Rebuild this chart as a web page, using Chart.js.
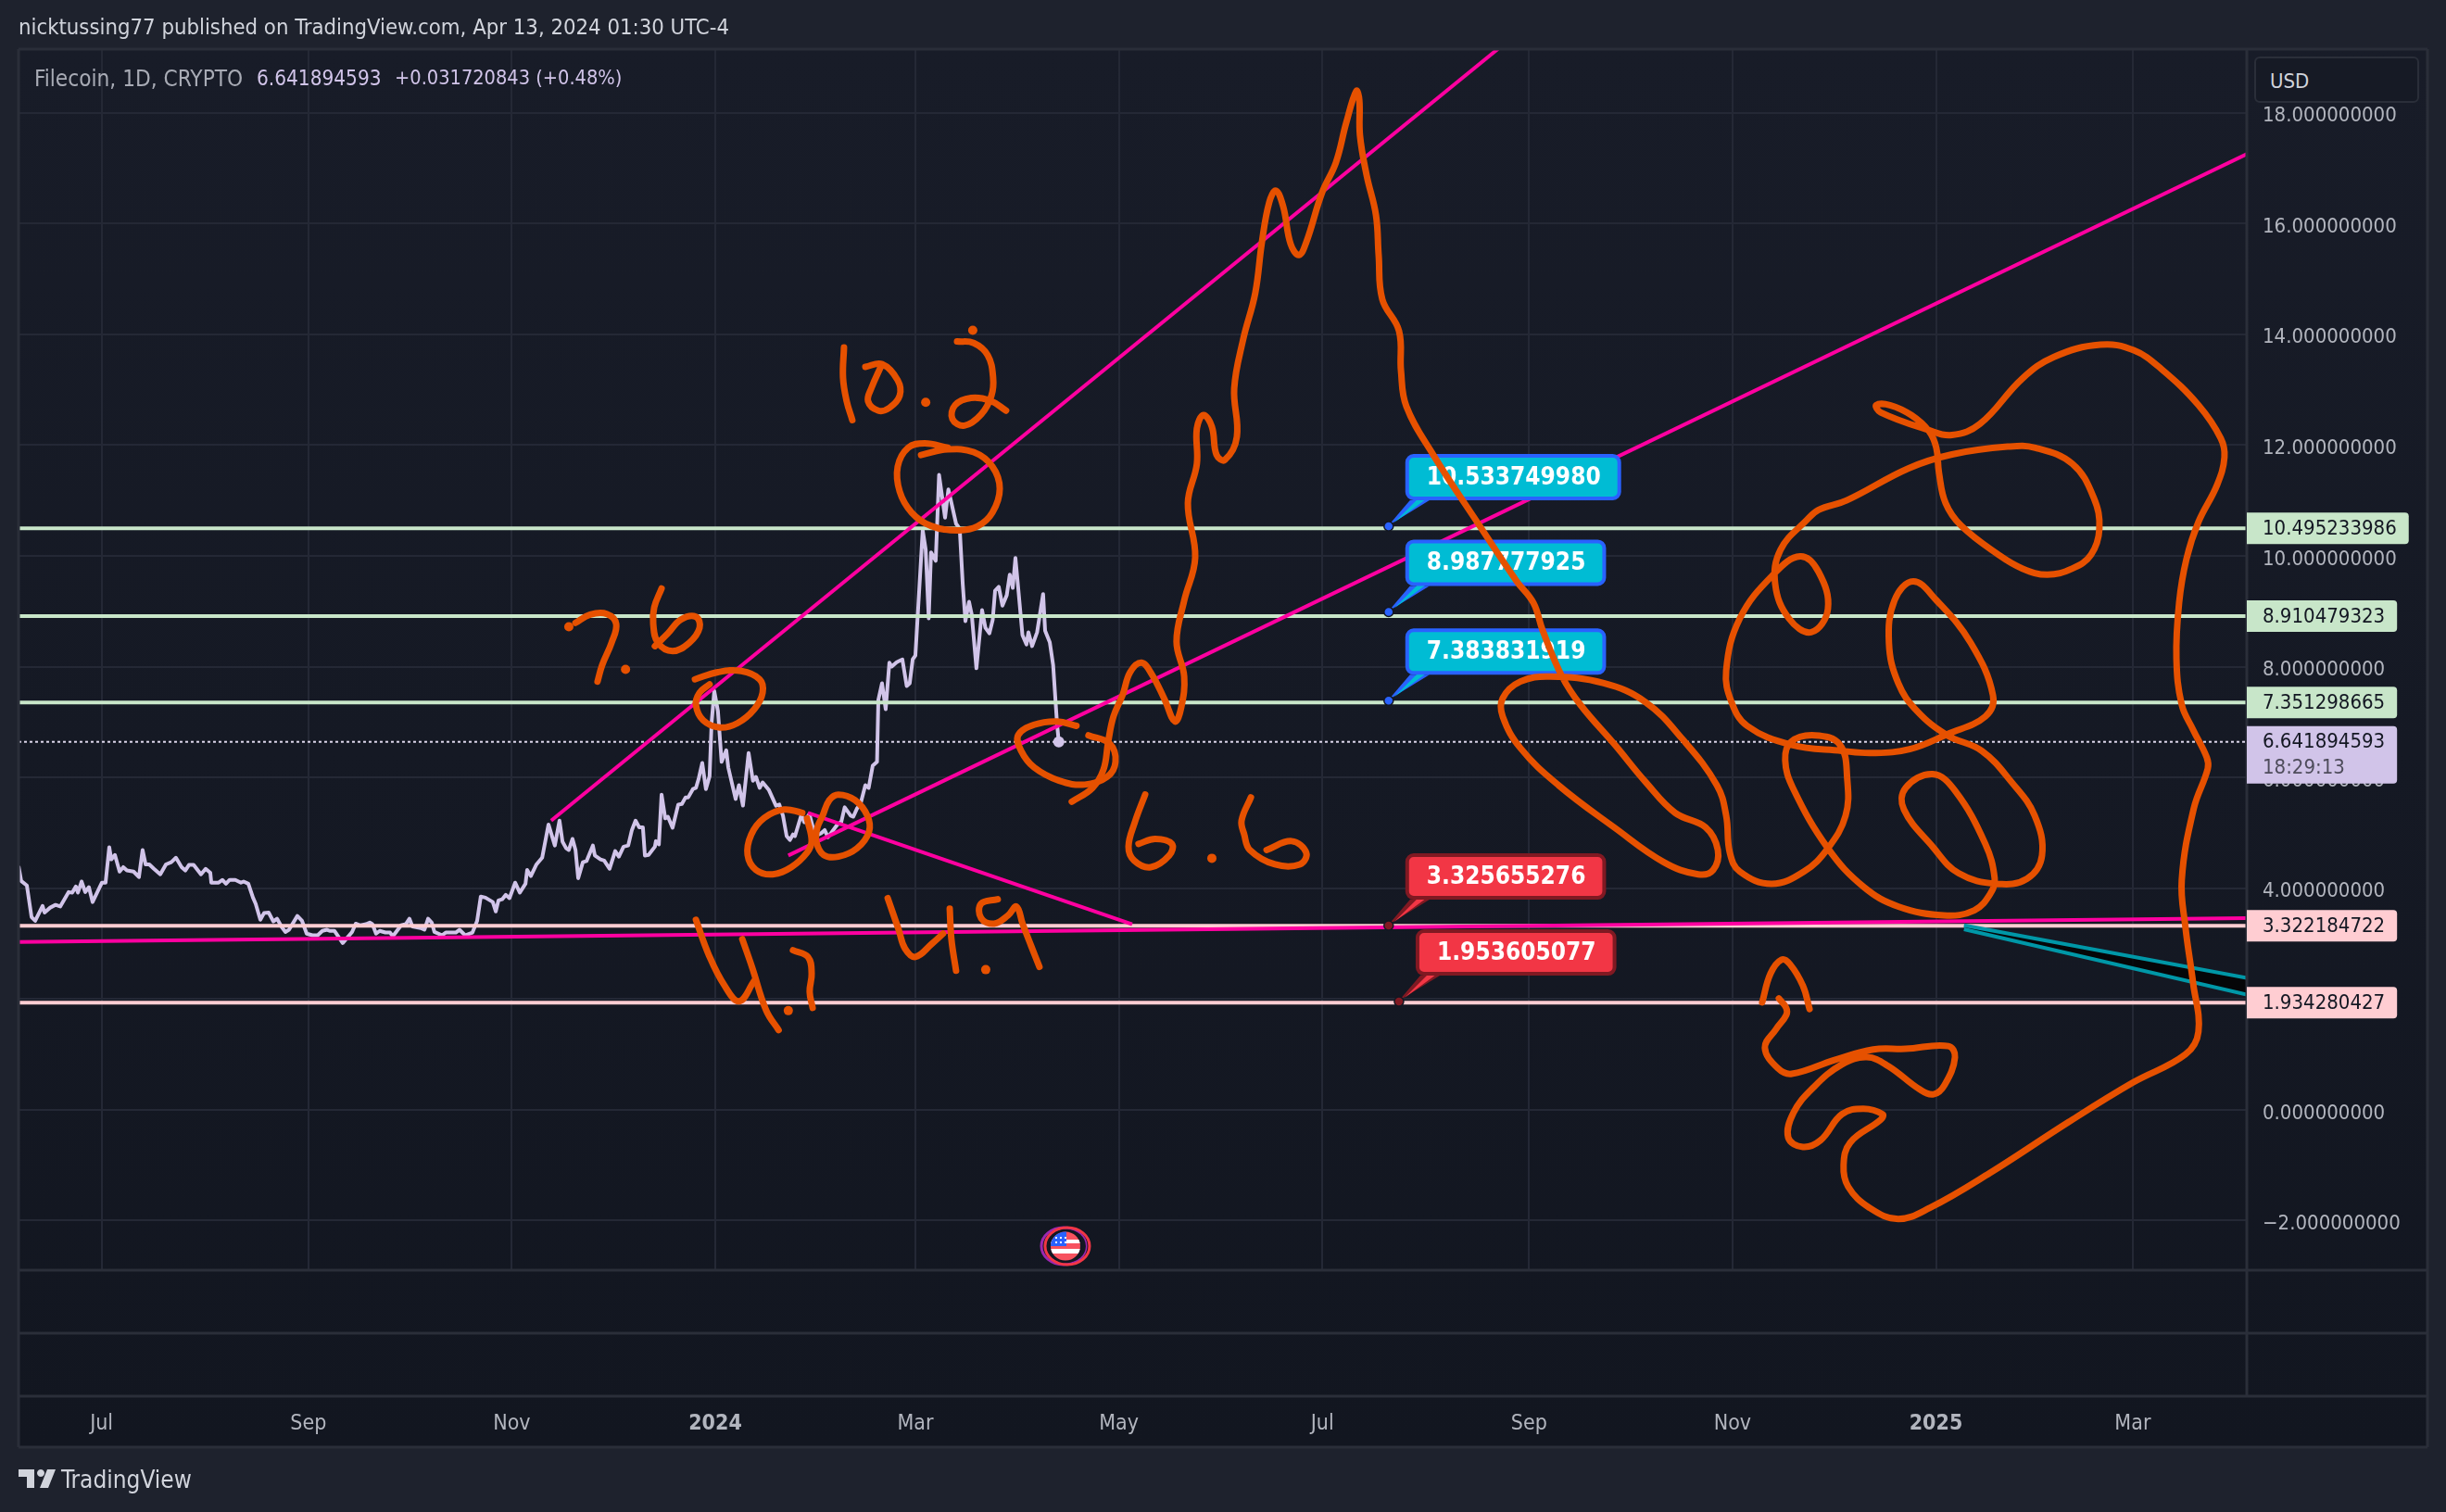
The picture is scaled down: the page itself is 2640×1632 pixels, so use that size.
<!DOCTYPE html>
<html lang="en">
<head>
    <meta charset="utf-8">
    <script src="https://cdn.jsdelivr.net/npm/chart.js"></script>
    <style>
        body { margin: 0; background: #1e222d; width: 2640px; height: 1632px; overflow: hidden; position: relative; }
        canvas { position: absolute; left: 0; top: 0; }
        .txt { position: absolute; white-space: pre; font-family: "DejaVu Sans Condensed", "DejaVu Sans", sans-serif; line-height: 1; }
        #header { left: 20px; top: 18px; font-size: 23.7px; color: #d1d4dc; }
        #legendName { left: 37px; top: 73px; font-size: 24.2px; color: #a8abb5; }
        #legendPrice { left: 277px; top: 73px; font-size: 22.4px; color: #d1c4e9; }
        #legendDelta { left: 426px; top: 73px; font-size: 21.6px; color: #d1c4e9; }
        #usd { left: 2433px; top: 61px; width: 178px; height: 50px; box-sizing: border-box; padding: 14px 0 0 15px; font-size: 22px; color: #d1d4dc; background: #161a25; border: 2px solid #2a2e39; border-radius: 6px; }
        #brand { left: 66px; top: 1584px; font-size: 26px; color: #d1d4dc; }
        #logo { position: absolute; left: 20px; top: 1586px; }
    </style>
</head>
<body>
    <canvas id="chart" width="2640" height="1632"></canvas>
    <div class="txt" id="header">nicktussing77 published on TradingView.com, Apr 13, 2024 01:30 UTC-4</div>
    <div class="txt" id="legendName">Filecoin, 1D, CRYPTO</div>
    <div class="txt" id="legendPrice">6.641894593</div>
    <div class="txt" id="legendDelta">+0.031720843 (+0.48%)</div>
    <div class="txt" id="usd">USD</div>
    <svg id="logo" width="40" height="20" viewBox="0 0 40 20"><path fill="#d1d4dc" d="M0 0h17v20h-8V8H0zM24 0a4 4 0 1 1-.01 0zM31 0h9l-8 20h-9z"/></svg>
    <div class="txt" id="brand">TradingView</div>
    <script>
        // x is days since 2024-01-01, y is the price
        const xMin = -208.9, xMax = 459.2, yMin = -2.895, yMax = 19.146;
        const xTickDays = [-184, -122, -61, 0, 60, 121, 182, 244, 305, 366, 425];
        const xTickLabels = ['Jul', 'Sep', 'Nov', '2024', 'Mar', 'May', 'Jul', 'Sep', 'Nov', '2025', 'Mar'];
        const boldTickDays = [0, 366];
        const yTickValues = [-2, 0, 2, 4, 6, 8, 10, 12, 14, 16, 18];

        const priceDays = [
            -208.9,-208.1,-206.4,-205,-203.9,-201.7,-201.1,-199.4,-197.8,-196.4,-193.9,-192.8,-191.7,-191.1,-190,-188.9,-187.8,-186.7,-183.9,-182.8,
            -181.7,-181.1,-180,-178.6,-177.5,-176.4,-174.4,-172.8,-171.7,-170.8,-169.7,-168.3,-166.4,-164.7,-163.1,-161.7,-160,-158.9,-157.8,-156.4,
            -154.2,-152.8,-151.4,-151.1,-148.9,-147.8,-146.7,-145.6,-143.9,-142.2,-141.4,-140,-138.6,-137.8,-136.4,-135.3,-133.9,-132.5,-131.4,-130,
            -128.9,-127.8,-125.3,-123.9,-122.5,-120.8,-119.2,-117.8,-116.4,-115.6,-114.2,-111.7,-108.9,-107.8,-106.4,-104.7,-103.6,-102.8,-101.7,-100.6,
            -98.9,-97.5,-96.7,-94.2,-92.8,-91.7,-90.8,-88.3,-87.2,-86.1,-85,-84.2,-81.9,-80.8,-77.8,-76.7,-75,-72.8,-71.4,-70.3,
            -68.9,-66.7,-65.8,-65,-63.9,-62.8,-61.7,-60,-58.6,-56.9,-56.4,-55.3,-53.6,-51.9,-50,-48.1,-46.7,-45.8,-44.7,-43.9,
            -42.8,-41.9,-41.1,-39.7,-38.6,-36.7,-36.1,-34.4,-33.3,-31.7,-30,-28.9,-27.5,-26.1,-25,-23.9,-22.8,-21.7,-21.1,-20,
            -18.1,-17.8,-16.9,-16.1,-15,-14.2,-12.8,-11.1,-10,-8.9,-8.1,-6.7,-5.8,-5,-3.9,-2.8,-1.7,-1.1,-0.3,0.8,
            1.9,3.3,3.9,6.1,7.1,8.3,10,11.3,12.2,13.3,14.2,16.1,18.2,19.2,20.3,21.4,22.4,23.3,23.9,25.8,
            26.7,28.2,30,31.7,32.8,33.8,36.5,37.8,38.8,40.6,41.4,42.5,43.5,45,46,47.2,48.5,48.9,50,51.1,
            52.2,52.9,54.4,56.1,57.4,58.3,59.2,60,62.2,63.1,64,64.7,66.1,67.1,68.9,69.9,72.2,73.3,74.2,75,
            76.1,76.9,78.3,80,81,82.2,83.2,83.9,85,86.1,87.4,88.3,89.2,90,90.8,92.1,93.3,93.9,95,96.5,
            98.3,98.9,100.3,101.3,102.5,103
        ];
        const priceValues = [
            4.40,4.13,4.05,3.48,3.41,3.68,3.56,3.65,3.70,3.67,3.93,3.92,4.03,3.92,4.12,3.93,4.02,3.75,4.10,4.10,
            4.74,4.52,4.60,4.30,4.38,4.32,4.30,4.20,4.69,4.43,4.43,4.35,4.25,4.43,4.47,4.55,4.38,4.32,4.42,4.42,
            4.25,4.35,4.28,4.10,4.10,4.15,4.08,4.15,4.15,4.10,4.12,4.08,3.83,3.72,3.43,3.55,3.56,3.40,3.45,3.30,
            3.21,3.25,3.50,3.41,3.18,3.15,3.15,3.23,3.25,3.23,3.23,3.01,3.21,3.36,3.33,3.35,3.38,3.35,3.18,3.23,
            3.20,3.20,3.13,3.33,3.35,3.45,3.31,3.28,3.25,3.45,3.38,3.21,3.15,3.20,3.20,3.25,3.15,3.20,3.41,3.85,
            3.83,3.75,3.58,3.78,3.80,3.88,3.82,4.10,3.92,4.08,4.33,4.22,4.43,4.55,5.15,4.77,5.22,4.84,4.72,4.69,
            4.89,4.69,4.18,4.47,4.49,4.77,4.59,4.52,4.50,4.35,4.67,4.57,4.75,4.77,5.05,5.22,5.10,5.10,4.59,4.60,
            4.75,4.85,4.79,5.69,5.26,5.29,5.09,5.51,5.52,5.64,5.64,5.79,5.81,5.97,6.26,5.79,6.02,6.98,7.56,7.20,
            6.28,6.49,6.18,5.61,5.86,5.49,6.44,5.94,6.01,5.81,5.91,5.77,5.49,5.51,5.31,4.94,4.87,4.97,4.94,5.32,
            5.19,5.34,4.94,4.99,5.05,4.92,5.14,5.20,5.46,5.31,5.29,5.44,5.51,5.86,5.81,6.21,6.28,7.40,7.70,7.23,
            8.07,8.00,8.08,8.13,7.65,7.70,8.13,8.20,10.46,10.11,8.87,10.06,9.91,11.46,10.69,11.20,10.58,10.49,9.49,8.82,
            9.17,8.94,7.97,9.02,8.70,8.60,8.85,9.37,9.44,9.10,9.29,9.66,9.42,9.96,9.44,8.57,8.40,8.62,8.37,8.62,
            9.31,8.65,8.44,8.03,6.95,6.64
        ];
        const lastPrice = 6.641894593;
        const countdown = '18:29:13';

        const greenLevels = [10.495233986, 8.910479323, 7.351298665];
        const redLevels = [3.322184722, 1.934280427];

        // trend lines, [day, price]
        const trendUpper = [[-49.2, 5.22], [234.7, 19.15]];
        const trendLower = [[21.9, 4.59], [459.2, 17.25]];
        const trendDown = [[27.8, 5.36], [125, 3.35]];
        const trendFlat = [[-208.9, 3.03], [459.2, 3.46]];
        const tealUpper = [[374.4, 3.33], [459.2, 2.38]];
        const tealLower = [[374.4, 3.26], [459.2, 2.08]];

        // callouts: day, price, text
        const blueNotes = [[201.9, 10.533749980, '10.533749980'], [201.9, 8.987777925, '8.987777925'], [201.9, 7.383831919, '7.383831919']];
        const redNotes = [[201.9, 3.325655276, '3.325655276'], [205, 1.953605077, '1.953605077']];
        const flagDay = 105, flagValue = -2.46;

        // orange hand drawing, [day, price]
        const inkTenOne = [[38.6,13.76],[38.3,13.22],[39.4,12.79],[41.1,12.45]];
        const inkTenZero = [[45,13.41],[50,13.46],[54.7,13.17],[55.3,12.89],[52.2,12.67],[48.9,12.62],[45.8,12.79],[46.9,13.04],[49.7,13.42]];
        const inkTenTwo = [[72.5,13.87],[77.5,13.84],[81.7,13.62],[83.3,13.22],[82.8,12.89],[79.7,12.55],[74.7,12.35],[71.1,12.47],[71.9,12.72],[76.7,12.85],[82.5,12.80],[87.2,12.62]];
        const inkTenCircle = [[61.7,11.82],[69.7,11.92],[77.5,11.87],[83.1,11.61],[85.3,11.21],[83.1,10.78],[78.6,10.53],[72.8,10.46],[64.7,10.54],[58.9,10.78],[55.3,11.16],[54.7,11.61],[57.8,11.95],[62.8,12.03],[69.7,11.95]];
        const inkSevenTop = [[-41.9,8.79],[-37.5,8.94],[-32.5,8.95],[-29.7,8.77],[-31.1,8.43],[-33.9,8.03],[-35.3,7.73]];
        const inkSixTop = [[-16.1,9.41],[-18.3,9.07],[-18.6,8.77],[-17.2,8.43],[-12.8,8.28],[-7.8,8.43],[-4.7,8.70],[-5.8,8.90],[-10.3,8.85],[-14.2,8.60],[-18.1,8.37]];
        const inkPeakCircle = [[-6.1,7.77],[0.8,7.90],[7.8,7.92],[13.3,7.77],[14.2,7.53],[11.7,7.23],[6.7,6.98],[1.4,6.90],[-3.6,7.03],[-5.8,7.31],[-4.7,7.53],[-1.7,7.68]];
        const inkLowCircleA = [[26.1,5.36],[20.6,5.42],[14.7,5.27],[10.8,4.97],[9.7,4.60],[12.2,4.33],[17.2,4.25],[22.8,4.38],[27.5,4.64],[28.9,4.85],[27.5,5.26]];
        const inkLowCircleB = [[32.2,5.31],[34.2,5.59],[36.9,5.69],[41.9,5.59],[45.6,5.31],[46.1,5.02],[42.5,4.72],[36.9,4.57],[32.5,4.60],[30.3,4.84],[30.6,5.09],[32.2,5.31]];
        const inkNowCircle = [[108.3,6.93],[102.5,7.01],[95.6,6.95],[90.8,6.76],[91.7,6.48],[95.6,6.18],[103.1,5.94],[110.8,5.87],[117.5,6.01],[120,6.28],[118.3,6.61],[111.9,6.76]];
        const inkSixA = [[128.9,5.69],[125.8,5.19],[123.9,4.75],[125.6,4.50],[130.6,4.38],[136.1,4.59],[136.9,4.80],[131.9,4.89],[126.9,4.80]];
        const inkSixB = [[160.6,5.64],[157.8,5.22],[158.6,4.97],[160.3,4.69],[167.8,4.43],[175.3,4.43],[177.2,4.64],[172.8,4.85],[165.3,4.69]];
        const inkFourA = [[-5.8,3.43],[-1.9,2.79],[2.8,2.24],[7.2,1.96],[11.7,2.33]];
        const inkFourAStem = [[8.1,3.08],[11,2.58],[15.3,1.79],[19,1.44]];
        const inkSevenLow = [[23.3,2.88],[27.8,2.76],[28.9,2.46],[28.3,2.13],[29.2,1.84]];
        const inkFourB = [[51.7,3.82],[55,3.25],[56.9,2.91],[60,2.76],[65,3.00],[68.3,3.18]];
        const inkFourBStem = [[70.3,3.63],[70.8,3.08],[72.2,2.51]];
        const inkNine = [[84.7,3.80],[79.7,3.72],[79.7,3.46],[83.6,3.36],[87.8,3.51],[90.3,3.67],[92.2,3.35],[94.7,2.96],[97.2,2.58]];
        const inkSmallPeak = [[313.9,1.94],[316.4,2.46],[319.7,2.71],[322.2,2.63],[326.1,2.24],[328.1,1.82]];
        const inkDots = [[63.1,12.77],[77.2,14.07],[-43.9,8.72],[-26.9,7.95],[148.9,4.54],[21.9,1.79],[81.1,2.53]];

        const inkWaveUp = [[106.9,5.56],[113.1,5.81],[116.4,6.14],[117.8,6.64],[119.4,7.10],[122.2,7.50],[124.4,7.90],[127.8,8.07],[130.8,7.87],[134.7,7.41],[137.8,7.01],[139.7,7.26],[140.6,7.82],[138.3,8.45],[140.6,9.19],[143.9,9.97],[141.7,10.95],[144.4,11.66],[144.4,12.30],[146.4,12.54],[148.9,12.33],[150.3,11.82],[152.8,11.73],[156.4,12.15],[155.6,13.02],[158.3,13.91],[161.9,14.74],[163.9,15.66],[166.1,16.38],[168.1,16.59],[170.3,16.30],[172.5,15.63],[175,15.43],[177.2,15.66],[181.9,16.55],[186.1,17.10],[189.2,17.82],[192.2,18.39],[193.1,18.23]];
        const inkWaveDown = [[193.3,17.59],[195.3,16.87],[198.1,16.15],[198.9,15.43],[200,14.63],[205,14.06],[205.6,13.34],[207.2,12.70],[215.3,11.82],[229.2,10.54],[240.3,9.54],[245.3,9.15],[248.1,8.65],[253.9,7.82],[259.4,7.31],[269.7,6.59],[278.9,5.92],[287.8,5.36],[296.9,5.10],[300.6,4.69],[299.2,4.33],[294.7,4.25],[284.4,4.47],[269.7,5.09],[252.8,5.86],[241.4,6.53],[236.1,7.10],[236.1,7.43],[241.4,7.73],[250.3,7.82],[266.4,7.70],[278.9,7.36],[290,6.69],[300.3,5.86],[303.1,5.31],[304.2,4.64],[307.2,4.30]];
        const inkLoopsLow = [[316.7,4.08],[326.4,4.30],[333.6,4.72],[338.9,5.31],[339.4,5.97],[337.2,6.59],[329.7,6.76],[322.5,6.64],[320.8,6.31],[323.1,5.81],[333.6,4.72],[344.4,4.02],[354.7,3.67],[368.3,3.51],[377.5,3.60],[382.5,3.92],[383.6,4.18],[380.8,4.80],[371.7,5.76],[365,6.06],[356.9,5.81],[356.4,5.42],[365,4.75],[372.8,4.27],[384.2,4.08],[393.3,4.17],[397.8,4.59],[395.6,5.31],[388.6,5.92],[379.7,6.48],[369.4,6.76]];
        const inkLoopsHigh = [[360.3,7.20],[354.7,7.70],[351.9,8.43],[353.6,9.20],[359.2,9.54],[366.1,9.20],[376.4,8.43],[383.1,7.48],[380.8,7.10],[369.4,6.78],[358.1,6.51],[346.7,6.44],[337.8,6.48],[322.5,6.59],[309.4,6.93],[304.7,7.36],[303.1,7.93],[307.2,8.87],[317.2,9.66],[325.3,9.99],[330.8,9.71],[333.6,9.04],[328.6,8.62],[321.9,8.87],[317.8,9.49],[319.4,10.11],[327.5,10.66],[330.8,10.83],[339.2,11.00],[357.8,11.58],[370.8,11.83],[387.5,11.97],[395.8,11.95],[406.9,11.66],[413.3,11.05],[415,10.49],[412.5,10.02],[406.9,9.77],[399.4,9.66],[391.9,9.77],[384.7,10.02],[373.6,10.54],[368.9,10.95],[366.9,11.50],[366.1,11.95],[363.9,12.25],[358.6,12.54],[352.2,12.72],[348.1,12.72],[349.4,12.59],[363.3,12.28],[370.8,12.18],[379.2,12.38]];
        const inkOuterRing = [[391.9,13.20],[401.4,13.59],[415.3,13.81],[425.3,13.71],[433.6,13.37],[444.7,12.72],[451.4,12.12],[452.5,11.78],[450.3,11.28],[444.7,10.61],[441.1,9.94],[438.9,9.15],[438.1,8.15],[439.7,7.31],[443.1,6.86],[447.2,6.36],[447.5,6.16],[443.3,5.44],[439.7,4.15],[440.8,3.30],[443.1,2.29],[444.7,1.41],[440.8,1.00],[425,0.49],[405.8,-0.22],[382.2,-1.14],[364.2,-1.77],[354.7,-1.97],[346.1,-1.77],[339.7,-1.39],[338.3,-1.00],[340.3,-0.59],[349.4,-0.18],[350,-0.08]];
        const inkTail = [[344.2,0.02],[337.8,-0.08],[331.4,-0.55],[326.1,-0.67],[321.7,-0.50],[323.3,-0.05],[329.2,0.40],[337.8,0.82],[345.3,0.95],[351.7,0.79],[361.1,0.37],[365.3,0.28],[368.6,0.45],[371.7,0.95],[369.7,1.15],[356.9,1.10],[347.2,1.09],[335.6,0.90],[322.8,0.65],[318.6,0.75],[314.7,1.12],[318.1,1.46],[321.1,1.71],[321.1,1.84],[318.9,2.01]];
        const inkMain = [...inkWaveUp, ...inkWaveDown, ...inkLoopsLow, ...inkLoopsHigh, ...inkOuterRing, ...inkTail];

        const inkStrokes = [inkMain, inkTenOne, inkTenZero, inkTenTwo, inkTenCircle, inkSevenTop, inkSixTop, inkPeakCircle, inkLowCircleA, inkLowCircleB,
            inkNowCircle, inkSixA, inkSixB, inkFourA, inkFourAStem, inkSevenLow, inkFourB, inkFourBStem, inkNine, inkSmallPeak];

        const labelFont = '"DejaVu Sans Condensed", "DejaVu Sans", sans-serif';

        function strokeSet(points) {
            return { data: points, showLine: true, tension: 0.4, borderColor: '#e65100', borderWidth: 7, borderCapStyle: 'round', borderJoinStyle: 'round', pointRadius: 0 };
        }
        function straightSet(points, color, width) {
            return { data: points, showLine: true, tension: 0, borderColor: color, borderWidth: width, pointRadius: 0 };
        }
        function levelSet(value, color) {
            return straightSet([[xMin, value], [xMax, value]], color, 4);
        }

        const inkSets = inkStrokes.map(strokeSet);
        inkSets.push({ data: inkDots, showLine: false, pointRadius: 5, pointBackgroundColor: '#e65100', pointBorderWidth: 0 });

        // datasets are painted from the last one to the first one
        const datasets = [
            ...inkSets,
            straightSet(trendUpper, '#ff00a0', 4),
            straightSet(trendLower, '#ff00a0', 4),
            straightSet(trendDown, '#ff00a0', 4),
            straightSet(trendFlat, '#ff00a0', 4),
            straightSet(tealUpper, '#0097a7', 4),
            { ...straightSet(tealLower, '#0097a7', 4), fill: { target: '-1', above: 'rgba(0,0,0,0.75)', below: 'rgba(0,0,0,0.75)' } },
            ...greenLevels.map(v => levelSet(v, '#c8e6c9')),
            ...redLevels.map(v => levelSet(v, '#ffcdd2')),
            {
                data: priceDays.map((d, i) => [d, priceValues[i]]),
                showLine: true, tension: 0, borderColor: '#d1c4e9', borderWidth: 4, borderJoinStyle: 'round',
                pointRadius: ctx => ctx.dataIndex === priceDays.length - 1 ? 6 : 0, pointBackgroundColor: '#d1c4e9', pointBorderWidth: 0
            },
            { ...straightSet([[xMin, lastPrice], [xMax, lastPrice]], '#dcd6ea', 2), borderDash: [3, 3] }
        ];

        function roundBox(ctx, x, y, w, h, r) {
            ctx.beginPath();
            ctx.roundRect(x, y, w, h, r);
        }

        function drawNote(ctx, chart, note, fill, edge) {
            const px = chart.scales.x.getPixelForValue(note[0]);
            const py = chart.scales.y.getPixelForValue(note[1]);
            ctx.font = 'bold 26px ' + labelFont;
            const w = ctx.measureText(note[2]).width + 45;
            const x = px + 18, y = py - 78, h = 50;
            // tail
            ctx.fillStyle = edge;
            ctx.beginPath(); ctx.moveTo(px, py - 1); ctx.lineTo(x + 5, y + h); ctx.lineTo(x + 26, y + h); ctx.closePath(); ctx.fill();
            ctx.fillStyle = fill;
            ctx.beginPath(); ctx.moveTo(px + 6, py - 4); ctx.lineTo(x + 13, y + h - 1); ctx.lineTo(x + 22, y + h - 1); ctx.closePath(); ctx.fill();
            // box
            roundBox(ctx, x + 2, y + 2, w - 4, h - 4, 7);
            ctx.fillStyle = fill; ctx.fill();
            ctx.strokeStyle = edge; ctx.lineWidth = 4; ctx.stroke();
            ctx.fillStyle = '#ffffff'; ctx.textAlign = 'left'; ctx.textBaseline = 'middle';
            ctx.fillText(note[2], x + 23, y + h / 2 + 1);
            // anchor dot
            ctx.beginPath(); ctx.arc(px, py, 5, 0, Math.PI * 2);
            ctx.fillStyle = edge; ctx.fill();
            ctx.strokeStyle = '#131722'; ctx.lineWidth = 1.5; ctx.stroke();
        }

        function drawFlag(ctx, chart) {
            const cx = chart.scales.x.getPixelForValue(flagDay);
            const cy = chart.scales.y.getPixelForValue(flagValue);
            ctx.save();
            ctx.lineWidth = 3;
            ctx.strokeStyle = '#9c27b0';
            ctx.beginPath(); ctx.ellipse(cx - 2, cy, 24, 20, 0, 0, Math.PI * 2); ctx.stroke();
            ctx.strokeStyle = '#f23645';
            ctx.beginPath(); ctx.ellipse(cx + 2, cy, 24, 20, 0, 0, Math.PI * 2); ctx.stroke();
            ctx.fillStyle = '#131722';
            ctx.beginPath(); ctx.ellipse(cx + 1, cy, 21, 18, 0, 0, Math.PI * 2); ctx.fill();
            ctx.beginPath(); ctx.ellipse(cx, cy, 16, 15.5, 0, 0, Math.PI * 2); ctx.clip();
            ctx.fillStyle = '#f7525f'; ctx.fillRect(cx - 17, cy - 16, 34, 32);
            ctx.fillStyle = '#ffffff';
            ctx.fillRect(cx - 17, cy - 7, 34, 4);
            ctx.fillRect(cx - 17, cy + 3, 34, 5);
            ctx.fillStyle = '#2962ff'; ctx.fillRect(cx - 17, cy - 16, 18, 16);
            ctx.fillStyle = '#ffffff';
            [[-11, -10], [-6, -10], [-1, -10], [-11, -5], [-6, -5], [-1, -5]].forEach(s => ctx.fillRect(cx + s[0], cy + s[1], 2, 2));
            ctx.restore();
        }

        function drawPriceTag(ctx, chart, value, fill) {
            const y = chart.scales.y.getPixelForValue(value);
            const left = chart.scales.x.right;
            const text = value.toFixed(9);
            ctx.font = '22px ' + labelFont;
            const w = ctx.measureText(text).width + 30;
            roundBox(ctx, left, y - 17, w, 34, [0, 4, 4, 0]);
            ctx.fillStyle = fill; ctx.fill();
            ctx.fillStyle = '#131722'; ctx.textAlign = 'left'; ctx.textBaseline = 'middle';
            ctx.fillText(text, left + 17, y + 1);
        }

        const paneLook = {
            id: 'paneLook',
            beforeDraw(chart) {
                const { ctx } = chart;
                const bg = ctx.createLinearGradient(0, 53, 0, 1562);
                bg.addColorStop(0, '#181c28');
                bg.addColorStop(1, '#121620');
                ctx.fillStyle = bg;
                ctx.fillRect(20, 53, 2600, 1509);
            },
            afterDatasetDraw(chart, args) {
                // callouts sit above the lines and below the orange ink
                if (args.index !== inkSets.length) return;
                const { ctx } = chart;
                ctx.save();
                blueNotes.forEach(n => drawNote(ctx, chart, n, '#00bcd4', '#2962ff'));
                redNotes.forEach(n => drawNote(ctx, chart, n, '#f23645', '#801922'));
                ctx.restore();
            },
            afterDraw(chart) {
                const { ctx } = chart;
                ctx.save();
                ctx.strokeStyle = '#2a2e39';
                ctx.lineWidth = 3;
                ctx.beginPath();
                [53, 1371, 1439, 1507, 1562].forEach(y => { ctx.moveTo(20, y); ctx.lineTo(2620, y); });
                ctx.moveTo(20, 53); ctx.lineTo(20, 1562);
                ctx.moveTo(2425, 53); ctx.lineTo(2425, 1507);
                ctx.moveTo(2620, 53); ctx.lineTo(2620, 1562);
                ctx.stroke();

                drawFlag(ctx, chart);
                greenLevels.forEach(v => drawPriceTag(ctx, chart, v, '#c8e6c9'));
                redLevels.forEach(v => drawPriceTag(ctx, chart, v, '#ffcdd2'));

                // current price tag with countdown
                const y = chart.scales.y.getPixelForValue(lastPrice);
                const left = chart.scales.x.right;
                ctx.font = '22px ' + labelFont;
                roundBox(ctx, left, y - 17, ctx.measureText(lastPrice.toFixed(9)).width + 30, 62, [0, 4, 4, 0]);
                ctx.fillStyle = '#d1c4e9'; ctx.fill();
                ctx.textAlign = 'left'; ctx.textBaseline = 'middle';
                ctx.fillStyle = '#131722';
                ctx.fillText(lastPrice.toFixed(9), left + 17, y + 1);
                ctx.fillStyle = '#4f4d5c';
                ctx.fillText(countdown, left + 17, y + 29);
                ctx.restore();
            }
        };

        // first and last tick labels must not push the plot area inwards
        function noAxisPadding(s) {
            s.paddingLeft = 0; s.paddingRight = 0; s.paddingTop = 0; s.paddingBottom = 0;
        }

        new Chart(document.getElementById('chart'), {
            type: 'scatter',
            data: { datasets },
            plugins: [paneLook],
            options: {
                responsive: false,
                devicePixelRatio: 1,
                animation: false,
                events: [],
                layout: { padding: { left: 20, top: 53, right: 20, bottom: 70 } },
                plugins: { legend: { display: false }, title: { display: false }, tooltip: { enabled: false } },
                scales: {
                    x: {
                        type: 'linear', min: xMin, max: xMax,
                        afterFit: s => { s.height = 191; noAxisPadding(s); },
                        afterBuildTicks: s => { s.ticks = xTickDays.map(v => ({ value: v })); },
                        border: { display: false },
                        grid: { color: '#242835', lineWidth: 2, drawTicks: false },
                        ticks: {
                            padding: 152, maxRotation: 0, autoSkip: false, color: '#b2b5be',
                            font: ctx => ({ family: labelFont, size: 23, weight: boldTickDays.includes(ctx.tick && ctx.tick.value) ? 'bold' : 'normal' }),
                            callback: (v, i) => xTickLabels[i]
                        }
                    },
                    y: {
                        type: 'linear', position: 'right', min: yMin, max: yMax,
                        afterFit: s => { s.width = 195; noAxisPadding(s); },
                        afterBuildTicks: s => { s.ticks = yTickValues.map(v => ({ value: v })); },
                        border: { display: false },
                        grid: { color: '#242835', lineWidth: 2, drawTicks: false },
                        ticks: {
                            padding: 17, autoSkip: false, color: '#b2b5be', labelOffset: 4,
                            font: { family: labelFont, size: 22 },
                            callback: v => v < 0 ? '\u2212' + Math.abs(v).toFixed(9) : v.toFixed(9)
                        }
                    }
                }
            }
        });
    </script>
</body>
</html>
